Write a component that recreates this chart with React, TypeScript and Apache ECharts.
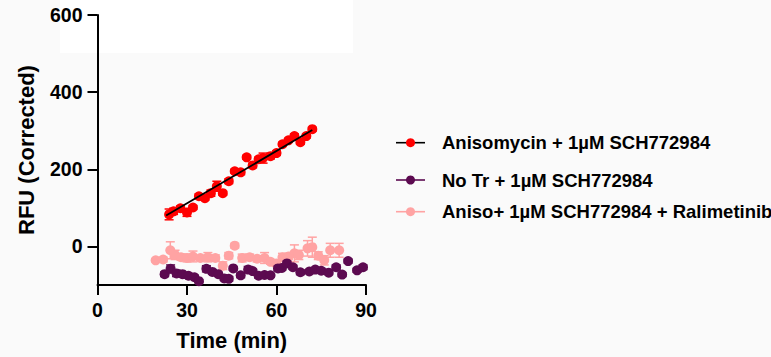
import React, { useEffect, useRef } from "react";
import * as echarts from "echarts";

// ---- data ----
const redTime = [24, 25.5, 27.8, 30, 32, 34, 36, 38, 40, 42, 44, 46, 48, 50, 52, 54, 55.5, 58, 60, 62, 64, 66, 68, 70, 72];
const redValue = [83, 91, 99, 88, 101, 130, 125, 138, 156, 138, 169, 195, 192, 231, 210, 226, 229, 234, 242, 265, 275, 286, 270, 286, 304];
const redErr = [14, 8, 6, 10, 5, 6, 5, 8, 13, 5, 6, 5, 6, 5, 6, 5, 13, 7, 6, 5, 5, 6, 5, 5, 5];

const purpleTime = [22.5, 24.5, 26.5, 28.5, 30.5, 32.5, 34, 36.5, 38.5, 40.5, 42.5, 44, 45.5, 48, 50.5, 52, 54, 56, 58, 60.5, 61.8, 63.5, 65.5, 68, 71, 73, 75, 77.5, 80, 82, 84, 87, 89];
const purpleValue = [-72, -58, -70, -72, -76, -80, -90, -58, -66, -72, -83, -84, -57, -75, -60, -64, -76, -74, -75, -57, -56, -44, -54, -67, -65, -60, -63, -68, -54, -73, -38, -62, -54];
const purpleErr = [6, 10, 8, 5, 6, 5, 4, 8, 6, 5, 5, 6, 5, 6, 8, 5, 6, 5, 4, 6, 5, 6, 5, 6, 5, 5, 6, 5, 6, 5, 5, 5, 6];

const pinkTime = [19.5, 22, 24.4, 26, 28, 30, 32, 34.5, 37, 39.5, 42, 44, 46, 48.5, 51, 53.5, 56, 58, 60, 62, 64, 66, 67.5, 70.4, 72, 74, 76, 78, 81];
const pinkValue = [-36, -34, -10, -22, -28, -30, -26, -30, -28, -30, -50, -24, 2, -30, -28, -32, -30, -40, -44, -28, -26, -18, -22, -5, -2, -24, -36, -10, -10];
const pinkErr = [4, 6, 22, 12, 8, 10, 14, 6, 12, 8, 10, 8, 6, 10, 8, 8, 14, 6, 8, 10, 8, 22, 12, 20, 26, 10, 12, 18, 18];

const fitTime = [23, 72];
const fitValue = [80, 302];

const yTicks = [0, 200, 400, 600];

const seriesNames = [
  "Anisomycin + 1\u00b5M SCH772984",
  "No Tr + 1\u00b5M SCH772984",
  "Aniso+ 1\u00b5M SCH772984 + Ralimetinib",
];

const RED = "#ff0000";
const PURPLE = "#5c0a50";
const PINK = "#ffa3a3";
const FONT = "Liberation Sans, Arial, sans-serif";

function zip3(t: number[], v: number[], e: number[]) {
  return t.map((x, i) => [x, v[i], e[i]]);
}

function errorSeries(data: number[][], color: string, z: number) {
  return {
    type: "custom",
    z,
    silent: true,
    data,
    encode: { x: 0, y: 1 },
    renderItem: (params: any, api: any) => {
      const x = api.value(0);
      const y = api.value(1);
      const e = api.value(2);
      const hi = api.coord([x, y + e]);
      const lo = api.coord([x, y - e]);
      const cap = 4.5;
      const style = { stroke: color, lineWidth: 1.5 };
      return {
        type: "group",
        children: [
          { type: "line", shape: { x1: hi[0], y1: hi[1], x2: lo[0], y2: lo[1] }, style },
          { type: "line", shape: { x1: hi[0] - cap, y1: hi[1], x2: hi[0] + cap, y2: hi[1] }, style },
          { type: "line", shape: { x1: lo[0] - cap, y1: lo[1], x2: lo[0] + cap, y2: lo[1] }, style },
        ],
      };
    },
  };
}

function legendItem(y: number, lineColor: string, dotColor: string, label: string) {
  return [
    { type: "line", shape: { x1: 396, y1: y, x2: 425, y2: y }, style: { stroke: lineColor, lineWidth: 1.6 } },
    { type: "circle", shape: { cx: 410.5, cy: y, r: 4.5 }, style: { fill: dotColor } },
    {
      type: "text",
      x: 442,
      y,
      style: { text: label, fill: "#000", font: `bold 18.5px ${FONT}`, verticalAlign: "middle", align: "left" },
    },
  ];
}

export default function App() {
  const ref = useRef<HTMLDivElement>(null);
  useEffect(() => {
    if (!ref.current) return;
    const chart = echarts.init(ref.current, undefined, { renderer: "svg" });
    const axisCommon = {
      axisLine: { show: true, onZero: false, lineStyle: { color: "#000", width: 2 } },
      axisTick: { show: true, inside: false, length: 10, lineStyle: { color: "#000", width: 2 } },
      splitLine: { show: false },
    };
    chart.setOption({
      animation: false,
      backgroundColor: "transparent",
      graphic: [
        { type: "rect", shape: { x: 60, y: 0, width: 293, height: 53 }, style: { fill: "#ffffff" }, z: -10 },
        ...legendItem(142.7, "#000", RED, seriesNames[0]),
        ...legendItem(180, PURPLE, PURPLE, seriesNames[1]),
        ...legendItem(211.7, PINK, PINK, seriesNames[2]),
      ],
      grid: { left: 97.5, right: 405, top: 15, bottom: 72 },
      xAxis: {
        type: "value",
        min: 0,
        max: 90,
        interval: 30,
        ...axisCommon,
        axisLabel: { color: "#000", fontFamily: FONT, fontWeight: "bold", fontSize: 19.5, margin: 15 },
        name: "Time (min)",
        nameLocation: "middle",
        nameGap: 44,
        nameTextStyle: { color: "#000", fontFamily: FONT, fontWeight: "bold", fontSize: 22 },
      },
      yAxis: {
        type: "value",
        min: -100,
        max: 600,
        ...axisCommon,
        axisTick: { ...axisCommon.axisTick, customValues: yTicks },
        axisLabel: {
          color: "#000",
          fontFamily: FONT,
          fontWeight: "bold",
          fontSize: 19.5,
          margin: 15,
          customValues: yTicks,
        },
        name: "RFU (Corrected)",
        nameLocation: "middle",
        nameGap: 60,
        nameTextStyle: { color: "#000", fontFamily: FONT, fontWeight: "bold", fontSize: 22 },
      },
      series: [
        errorSeries(zip3(pinkTime, pinkValue, pinkErr), PINK, 2),
        {
          type: "scatter",
          name: seriesNames[2],
          z: 3,
          symbol: "circle",
          symbolSize: 10,
          itemStyle: { color: PINK, opacity: 1 },
          data: pinkTime.map((t, i) => [t, pinkValue[i]]),
        },
        errorSeries(zip3(purpleTime, purpleValue, purpleErr), PURPLE, 4),
        {
          type: "scatter",
          name: seriesNames[1],
          z: 5,
          symbol: "circle",
          symbolSize: 10,
          itemStyle: { color: PURPLE, opacity: 1 },
          data: purpleTime.map((t, i) => [t, purpleValue[i]]),
        },
        errorSeries(zip3(redTime, redValue, redErr), RED, 6),
        {
          type: "scatter",
          name: seriesNames[0],
          z: 7,
          symbol: "circle",
          symbolSize: 10,
          itemStyle: { color: RED, opacity: 1 },
          data: redTime.map((t, i) => [t, redValue[i]]),
        },
        {
          type: "line",
          name: "fit",
          z: 8,
          symbol: "none",
          silent: true,
          lineStyle: { color: "#000", width: 1.8 },
          data: fitTime.map((t, i) => [t, fitValue[i]]),
        },
      ],
    });
    return () => chart.dispose();
  }, []);
  return (
    <div style={{ position: "fixed", left: 0, top: 0, width: 771, height: 357, background: "#fafafa" }}>
      <div ref={ref} style={{ width: 771, height: 357 }} />
    </div>
  );
}
